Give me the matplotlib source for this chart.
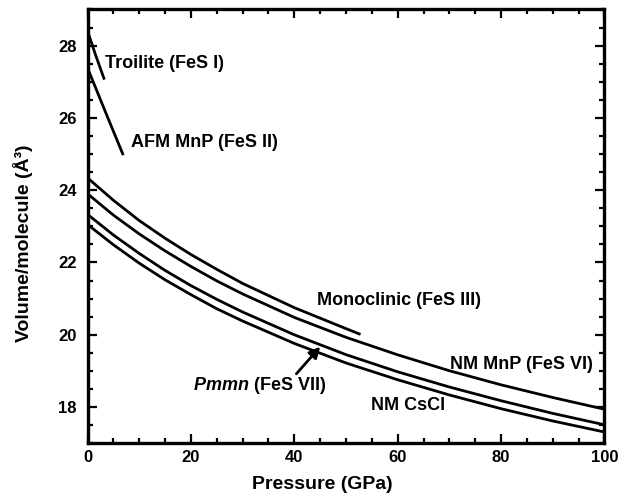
#!/usr/bin/env python3
"""FeS polymorphs: volume per molecule vs pressure."""

import matplotlib
matplotlib.use("Agg")
import matplotlib.pyplot as plt
from matplotlib import rcParams
from matplotlib.ticker import MultipleLocator

rcParams.update({
    "font.family": ["Liberation Sans", "DejaVu Sans"],
    "font.weight": "bold",
    "font.size": 12,
    "axes.linewidth": 2.4,
    "lines.linewidth": 2.0,
    "mathtext.fontset": "custom",
    "mathtext.it": "Liberation Sans:italic:bold",
    "mathtext.rm": "Liberation Sans:bold",
})

# --- data (P in GPa, V in A^3) ---------------------------------------------
P_TROILITE = [0.0, 1.6, 3.25]
V_TROILITE = [28.40, 27.72, 27.06]

P_AFM = [0.0, 3.5, 6.9]
V_AFM = [27.38, 26.15, 24.97]

P_MONO = [0, 5, 10, 15, 20, 25, 30, 40, 50, 52.8]
V_MONO = [24.34, 23.72, 23.16, 22.67, 22.22, 21.81, 21.42, 20.75, 20.17, 20.01]

P_FULL = [0, 5, 10, 15, 20, 25, 30, 40, 50, 60, 70, 80, 90, 100]
V_NM_MNP = [23.90, 23.31, 22.79, 22.32, 21.89, 21.49, 21.13, 20.48, 19.93,
            19.445, 19.005, 18.615, 18.265, 17.94]
V_PMMN = [23.33, 22.76, 22.25, 21.78, 21.36, 20.98, 20.63, 20.00, 19.45,
          18.975, 18.555, 18.175, 17.825, 17.51]
V_CSCL = [23.05, 22.49, 21.98, 21.52, 21.11, 20.72, 20.38, 19.76, 19.22,
          18.755, 18.335, 17.955, 17.615, 17.31]


def main():
    fig = plt.figure(figsize=(6.3, 4.98), dpi=100)
    ax = fig.add_axes([0.139, 0.110, 0.8205, 0.871])

    for p, v in [(P_TROILITE, V_TROILITE), (P_AFM, V_AFM), (P_MONO, V_MONO),
                 (P_FULL, V_NM_MNP), (P_FULL, V_PMMN), (P_FULL, V_CSCL)]:
        ax.plot(p, v, color="black", lw=2.0, solid_capstyle="butt")

    lab = dict(fontsize=13, fontweight="bold", va="center", ha="left")
    ax.text(3.4, 27.5, "Troilite (FeS I)", **lab)
    ax.text(8.4, 25.31, "AFM MnP (FeS II)", **lab)
    ax.text(44.3, 20.94, "Monoclinic (FeS III)", **lab)
    ax.text(70.1, 19.19, "NM MnP (FeS VI)", **lab)
    ax.text(54.8, 18.03, "NM CsCl", **lab)
    ax.text(20.4, 18.61, "$\\mathit{Pmmn}$ (FeS VII)", **lab)
    ax.annotate("", xy=(45.0, 19.67), xytext=(40.4, 18.92),
                arrowprops=dict(arrowstyle="-|>", color="black", lw=2.0,
                                mutation_scale=16, shrinkA=0, shrinkB=0))

    ax.set_xlim(0, 100)
    ax.set_ylim(17, 29)
    ax.xaxis.set_major_locator(MultipleLocator(20))
    ax.xaxis.set_minor_locator(MultipleLocator(5))
    ax.yaxis.set_major_locator(MultipleLocator(2))
    ax.yaxis.set_minor_locator(MultipleLocator(0.5))
    ax.set_yticks([18, 20, 22, 24, 26, 28])
    ax.tick_params(which="both", direction="in", top=True, right=True,
                   width=1.6)
    ax.tick_params(which="major", length=6.5, labelsize=12)
    ax.tick_params(which="minor", length=3.6)
    ax.tick_params(axis="y", pad=8)
    ax.tick_params(axis="x", pad=5)
    for t in ax.get_xticklabels() + ax.get_yticklabels():
        t.set_fontweight("bold")

    ax.set_xlabel("Pressure (GPa)", fontsize=14, fontweight="bold")
    ax.set_ylabel("Volume/molecule (Å³)", fontsize=14, fontweight="bold")
    ax.xaxis.set_label_coords(0.455, -0.075)
    ax.yaxis.set_label_coords(-0.106, 0.46)

    fig.savefig("out.png", dpi=100)
    plt.close(fig)


if __name__ == "__main__":
    main()
